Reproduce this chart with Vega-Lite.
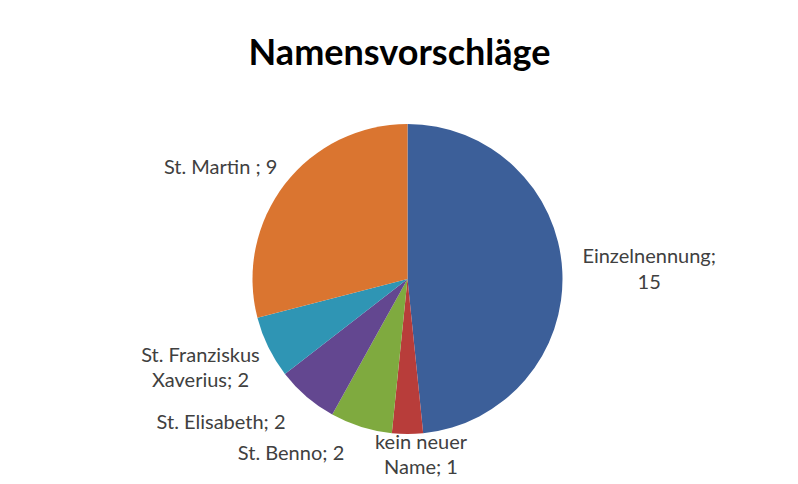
{
  "$schema": "https://vega.github.io/schema/vega-lite/v6.json",
  "width": 780,
  "height": 358,
  "autosize": {"type": "none"},
  "padding": {"left": 17.5, "top": 100, "right": 0, "bottom": 26},
  "background": "white",
  "title": {
    "text": "Namensvorschläge",
    "font": "Lato",
    "fontSize": 36,
    "fontWeight": "bold",
    "color": "#000000",
    "anchor": "middle",
    "frame": "group",
    "baseline": "alphabetic",
    "offset": 35,
    "dy": 44,
    "dx": -8
  },
  "data": {
    "values": [
      {"idx": 1, "name": "Einzelnennung", "value": 15, "label": "Einzelnennung;\n15"},
      {"idx": 2, "name": "kein neuer Name", "value": 1, "label": "kein neuer\nName; 1"},
      {"idx": 3, "name": "St. Benno", "value": 2, "label": "St. Benno; 2"},
      {"idx": 4, "name": "St. Elisabeth", "value": 2, "label": "St. Elisabeth; 2"},
      {"idx": 5, "name": "St. Franziskus Xaverius", "value": 2, "label": "St. Franziskus\nXaverius; 2"},
      {"idx": 6, "name": "St. Martin", "value": 9, "label": "St. Martin ; 9"}
    ]
  },
  "encoding": {
    "theta": {"field": "value", "type": "quantitative", "stack": true},
    "order": {"field": "idx", "type": "quantitative"}
  },
  "layer": [
    {
      "mark": {"type": "arc", "radius": 155},
      "encoding": {
        "color": {
          "field": "name",
          "type": "nominal",
          "scale": {
            "domain": ["Einzelnennung", "kein neuer Name", "St. Benno", "St. Elisabeth", "St. Franziskus Xaverius", "St. Martin"],
            "range": ["#3C5F99", "#B83D3A", "#7FAA3F", "#634790", "#2F95B4", "#DA7530"]
          },
          "legend": null
        }
      }
    },
    {
      "mark": {"type": "text", "radius": 240, "dx": 2, "dy": -10, "font": "Lato", "fontSize": 20, "color": "#404040", "lineBreak": "\n", "lineHeight": 26, "align": "center", "baseline": "middle"},
      "encoding": {"text": {"condition": {"test": "datum.name === 'Einzelnennung'", "field": "label"}, "value": ""}}
    },
    {
      "mark": {"type": "text", "radius": 174, "dx": 13.5, "dy": -10, "font": "Lato", "fontSize": 20, "color": "#404040", "lineBreak": "\n", "lineHeight": 25, "align": "center", "baseline": "middle"},
      "encoding": {"text": {"condition": {"test": "datum.name === 'kein neuer Name'", "field": "label"}, "value": ""}}
    },
    {
      "mark": {"type": "text", "radius": 208.6, "dx": -54, "dy": -24, "font": "Lato", "fontSize": 20, "color": "#404040", "lineBreak": "\n", "lineHeight": 25, "align": "center", "baseline": "middle"},
      "encoding": {"text": {"condition": {"test": "datum.name === 'St. Benno'", "field": "label"}, "value": ""}}
    },
    {
      "mark": {"type": "text", "radius": 234, "dx": -34, "dy": -34, "font": "Lato", "fontSize": 20, "color": "#404040", "lineBreak": "\n", "lineHeight": 25, "align": "center", "baseline": "middle"},
      "encoding": {"text": {"condition": {"test": "datum.name === 'St. Elisabeth'", "field": "label"}, "value": ""}}
    },
    {
      "mark": {"type": "text", "radius": 225, "dx": -5, "dy": -22, "font": "Lato", "fontSize": 20, "color": "#404040", "lineBreak": "\n", "lineHeight": 25, "align": "center", "baseline": "middle"},
      "encoding": {"text": {"condition": {"test": "datum.name === 'St. Franziskus Xaverius'", "field": "label"}, "value": ""}}
    },
    {
      "mark": {"type": "text", "radius": 223, "dx": -10.5, "dy": 25, "font": "Lato", "fontSize": 20, "color": "#404040", "lineBreak": "\n", "lineHeight": 25, "align": "center", "baseline": "middle"},
      "encoding": {"text": {"condition": {"test": "datum.name === 'St. Martin'", "field": "label"}, "value": ""}}
    }
  ],
  "config": {"view": {"stroke": null}}
}
